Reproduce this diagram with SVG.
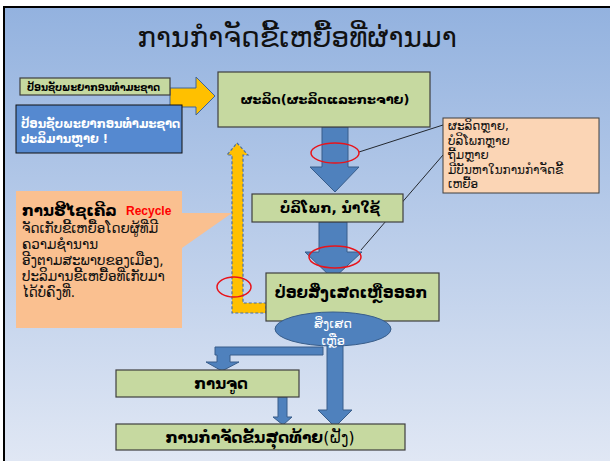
<svg xmlns="http://www.w3.org/2000/svg" width="610" height="461" viewBox="0 0 610 461">
<defs>
<linearGradient id="bg" x1="0" y1="0" x2="0" y2="1">
<stop offset="0" stop-color="#93b2df"/>
<stop offset="1" stop-color="#e0e7f4"/>
</linearGradient>
</defs>
<style>
.lao{font-family:"DejaVu Sans","Noto Sans","Liberation Sans",sans-serif;}
.green{fill:#c6d9a0;stroke:#3f3f3f;stroke-width:1.2;}
.barrow{fill:#4f81bd;stroke:#385d8a;stroke-width:1;}
.ring{fill:none;stroke:#e8141b;stroke-width:1.5;}
.lead{stroke:#000;stroke-width:0.8;fill:none;}
.b{font-weight:bold;}
</style>
<rect x="0" y="0" width="610" height="461" fill="#ffffff"/>
<rect x="4" y="7" width="606" height="454" fill="url(#bg)"/>
<line x1="4" y1="7" x2="610" y2="7" stroke="#000" stroke-width="2"/>
<line x1="4" y1="6" x2="4" y2="461" stroke="#000" stroke-width="2"/>

<g id="title">
<text class="lao" x="297" y="47" font-size="28" text-anchor="middle" fill="#111">ການກຳຈັດຂີ້ເຫຍື້ອທີ່ຜ່ານມາ</text>
</g>

<g id="connectors">
<polygon points="170,88 196,88 196,77 215,96 196,115 196,107 170,107" fill="#ffc000" stroke="#3f6499" stroke-width="1"/>
<polygon points="322,127 348,127 348,167 359,167 335,192 310,167 322,167" class="barrow"/>
<polygon points="319,222 347,222 347,252 362,252 333,279 305,252 319,252" class="barrow"/>
<polygon points="237,143 248,155 243,155 243,303 266,303 266,313 232,313 232,155 227,155" fill="#ffc000" stroke="#4a6fa0" stroke-width="1.2" stroke-dasharray="3,2"/>
<polygon points="323,347 323,355 230,355 230,362 239,362 222,371 206,362 217,362 217,355 215,355 215,347" class="barrow"/>
<polygon points="327,345 343,345 343,410 352,410 335,427 318,410 327,410" class="barrow"/>
<polygon points="278,397 287,397 287,417 292,417 283,425 273,417 278,417" class="barrow"/>
<line class="lead" x1="359" y1="152" x2="443" y2="125"/>
<line class="lead" x1="361" y1="250" x2="443" y2="155"/>
<ellipse class="ring" cx="335" cy="153" rx="24" ry="10"/>
<ellipse class="ring" cx="335" cy="257" rx="26" ry="11"/>
<ellipse class="ring" cx="234" cy="287" rx="17" ry="10"/>
</g>

<g id="node-input-small">
<rect class="green" x="20" y="78" width="150" height="17"/>
<text class="lao b" x="27" y="91" font-size="10" fill="#000" textLength="133" lengthAdjust="spacingAndGlyphs">ປ້ອນຊັບພະຍາກອນທຳມະຊາດ</text>
</g>

<g id="node-input-blue">
<rect x="16" y="105" width="166" height="48" fill="#5589d0" stroke="#111" stroke-width="1"/>
<text class="lao b" x="21" y="128" font-size="11.5" fill="#fff">ປ້ອນຊັບພະຍາກອນທຳມະຊາດ</text>
<text class="lao b" x="21" y="143" font-size="11.5" fill="#fff">ປະລິມານຫຼາຍ !</text>
</g>

<g id="node-produce">
<rect class="green" x="218" y="72" width="212" height="55"/>
<text class="lao b" x="325" y="104" font-size="13" text-anchor="middle" fill="#000">ຜະລິດ(ຜະລິດແລະກະຈາຍ)</text>
</g>

<g id="node-callout">
<rect x="443" y="118" width="156" height="75" fill="#fbd5b5" stroke="#3f3f3f" stroke-width="1"/>
<text class="lao" font-size="12" fill="#111">
<tspan x="448" y="130">ຜະລິດຫຼາຍ,</tspan>
<tspan x="448" y="144.5">ບໍລິໂພກຫຼາຍ</tspan>
<tspan x="448" y="159">ຖີ້ມຫຼາຍ</tspan>
<tspan x="448" y="173.5">ມີບັນຫາໃນການກຳຈັດຂີ້</tspan>
<tspan x="448" y="188">ເຫຍື້ອ</tspan>
</text>
</g>

<g id="node-consume">
<rect class="green" x="252" y="194" width="151" height="28"/>
<text class="lao b" x="330" y="213" font-size="14" text-anchor="middle" fill="#000">ບໍລິໂພກ, ນຳໃຊ້</text>
</g>

<g id="node-release">
<rect class="green" x="266" y="273" width="173" height="48"/>
<text class="lao b" x="351" y="298" font-size="15" text-anchor="middle" fill="#000">ປ່ອຍສິ່ງເສດເຫຼືອອອກ</text>
</g>

<g id="node-waste">
<ellipse cx="333" cy="329" rx="58" ry="17" fill="#4f81bd" stroke="#385d8a" stroke-width="1"/>
<text class="lao" x="333" y="328" font-size="13" text-anchor="middle" fill="#fff">ສິ່ງເສດ</text>
<text class="lao" x="333" y="345" font-size="13" text-anchor="middle" fill="#fff">ເຫຼືອ</text>
</g>

<g id="node-recycle">
<path d="M16,191 H182 V213 H232 L182,248 V328 H16 Z" fill="#fac090"/>
<text class="lao b" x="22" y="216" font-size="15" fill="#000">ການຮີໄຊເຄີລ</text>
<text x="126" y="215" font-size="12" font-weight="bold" font-family="Liberation Sans, Arial, sans-serif" fill="#ff0000">Recycle</text>
<text class="lao" font-size="13.5" fill="#111">
<tspan x="22" y="233">ຈັດເກັບຂີ້ເຫຍື້ອໂດຍຜູ້ທີ່ມີ</tspan>
<tspan x="22" y="249">ຄວາມຊຳນານ</tspan>
<tspan x="22" y="265">ອີງຕາມສະພາບຂອງເມືອງ,</tspan>
<tspan x="22" y="281">ປະລິມານຂີ້ເຫຍື້ອທີ່ເກັບມາ</tspan>
<tspan x="22" y="297">ໄດ້ບໍ່ຄົງທີ່.</tspan>
</text>
</g>

<g id="node-burn">
<rect class="green" x="116" y="370" width="183" height="27"/>
<text class="lao b" x="221" y="389" font-size="15" text-anchor="middle" fill="#000">ການຈູດ</text>
</g>

<g id="node-final">
<rect class="green" x="116" y="424" width="289" height="26"/>
<text class="lao" x="260" y="443" font-size="15.5" text-anchor="middle" fill="#000"><tspan font-weight="bold">ການກຳຈັດຂັ້ນສຸດທ້າຍ</tspan>(ຝັງ)</text>
</g>
</svg>
